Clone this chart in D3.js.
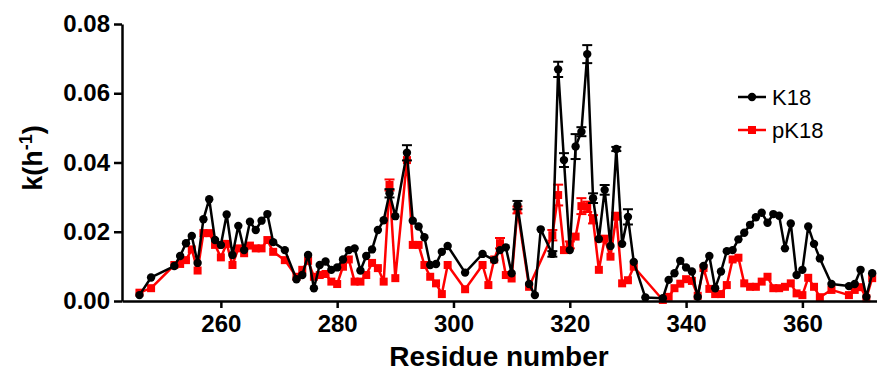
<!DOCTYPE html>
<html>
<head>
<meta charset="utf-8">
<script src="https://cdn.jsdelivr.net/npm/d3@7"></script>
<style>
  body { margin: 0; background: #fff; }
  svg { display: block; font-family: "Liberation Sans", Arial, Helvetica, sans-serif; }
</style>
</head>
<body>
<div id="chart"></div>
<script>
// K18 (black circles)
const k18Residues = [246, 248, 252, 253, 254, 255, 256, 257, 258, 259, 260, 261, 262, 263, 264, 265, 266, 267, 268, 269,
  271, 273, 274, 275, 276, 277, 278, 279, 280, 281, 282, 283, 284, 285, 286, 287, 288, 289, 290, 292,
  293, 294, 295, 296, 297, 298, 299, 302, 305, 307, 308, 309, 310, 311, 313, 314, 315, 317, 318, 319,
  320, 321, 322, 323, 324, 325, 326, 327, 328, 329, 330, 331, 333, 336, 337, 338, 339, 340, 341, 342,
  343, 344, 345, 346, 347, 348, 349, 350, 351, 352, 353, 354, 355, 356, 357, 358, 359, 360, 361, 362,
  363, 365, 368, 369, 370, 371, 372];
const k18Values = [0.0017, 0.0068, 0.0101, 0.0130, 0.0167, 0.0188, 0.0110, 0.0236, 0.0294, 0.0176, 0.0162, 0.0250, 0.0133, 0.0217, 0.0147, 0.0229, 0.0205, 0.0232, 0.0251, 0.0170,
  0.0147, 0.0063, 0.0075, 0.0133, 0.0037, 0.0104, 0.0114, 0.0090, 0.0097, 0.0120, 0.0147, 0.0152, 0.0088, 0.0130, 0.0149, 0.0205, 0.0233, 0.0311, 0.0245, 0.0428,
  0.0232, 0.0215, 0.0184, 0.0104, 0.0107, 0.0142, 0.0159, 0.0082, 0.0136, 0.0118, 0.0147, 0.0155, 0.0080, 0.0277, 0.0049, 0.0017, 0.0207, 0.0136, 0.0669, 0.0407,
  0.0147, 0.0446, 0.0489, 0.0713, 0.0297, 0.0179, 0.0321, 0.0159, 0.0439, 0.0165, 0.0243, 0.0113, 0.0010, 0.0008, 0.0061, 0.0080, 0.0116, 0.0097, 0.0085, 0.0012,
  0.0101, 0.0130, 0.0037, 0.0085, 0.0144, 0.0147, 0.0178, 0.0197, 0.0220, 0.0242, 0.0255, 0.0226, 0.0251, 0.0246, 0.0152, 0.0224, 0.0075, 0.0090, 0.0215, 0.0165,
  0.0123, 0.0049, 0.0043, 0.0049, 0.0090, 0.0012, 0.0080];
const k18ErrResidues = [289, 292, 311, 317, 318, 319, 321, 322, 323, 324, 326, 328, 330];
const k18Err = [0.0012, 0.0022, 0.0012, 0.0008, 0.0022, 0.0020, 0.0036, 0.0013, 0.0026, 0.0014, 0.0014, 0.0006, 0.0022];

// pK18 (red squares)
const pk18Residues = [246, 248, 252, 253, 254, 255, 256, 257, 258, 259, 260, 261, 262, 263, 264, 265, 266, 267, 268, 269,
  271, 273, 274, 275, 276, 277, 278, 279, 280, 281, 282, 283, 284, 285, 286, 287, 288, 289, 290, 292,
  293, 294, 295, 296, 297, 298, 299, 302, 305, 306, 307, 308, 309, 310, 311, 313, 317, 318, 319, 320,
  321, 322, 323, 324, 325, 326, 327, 328, 329, 330, 331, 336, 337, 338, 339, 340, 341, 342, 343, 344,
  345, 346, 347, 348, 349, 350, 351, 352, 353, 354, 355, 356, 357, 358, 359, 360, 361, 362, 363, 365,
  368, 369, 370, 371, 372];
const pk18Values = [0.0024, 0.0037, 0.0104, 0.0107, 0.0118, 0.0149, 0.0088, 0.0196, 0.0196, 0.0162, 0.0126, 0.0165, 0.0104, 0.0152, 0.0138, 0.0160, 0.0152, 0.0152, 0.0176, 0.0142,
  0.0118, 0.0070, 0.0090, 0.0116, 0.0070, 0.0075, 0.0078, 0.0056, 0.0049, 0.0099, 0.0120, 0.0056, 0.0056, 0.0075, 0.0110, 0.0095, 0.0056, 0.0335, 0.0066, 0.0407,
  0.0162, 0.0162, 0.0104, 0.0070, 0.0051, 0.0020, 0.0104, 0.0034, 0.0104, 0.0046, 0.0120, 0.0167, 0.0075, 0.0065, 0.0263, 0.0041, 0.0190, 0.0306, 0.0147, 0.0162,
  0.0186, 0.0274, 0.0272, 0.0236, 0.0090, 0.0180, 0.0128, 0.0245, 0.0051, 0.0060, 0.0099, 0.0003, 0.0012, 0.0037, 0.0050, 0.0063, 0.0058, 0.0015, 0.0095, 0.0035,
  0.0020, 0.0020, 0.0046, 0.0120, 0.0125, 0.0051, 0.0041, 0.0041, 0.0056, 0.0070, 0.0037, 0.0037, 0.0041, 0.0051, 0.0022, 0.0017, 0.0067, 0.0041, 0.0011, 0.0032,
  0.0017, 0.0032, 0.0040, 0.0008, 0.0066];
const pk18ErrResidues = [289, 308, 311, 317, 318, 320, 322, 323, 324, 328];
const pk18Err = [0.0016, 0.0015, 0.0010, 0.0015, 0.0030, 0.0010, 0.0023, 0.0015, 0.0012, 0.0010];

const xTicks = [260, 280, 300, 320, 340, 360];
const yTicks = [0, 0.02, 0.04, 0.06, 0.08];

const width = 877, height = 377;

const x = d3.scaleLinear().domain([243, 373]).range([122, 878]);
const y = d3.scaleLinear().domain([0, 0.08]).range([301, 24]);

const svg = d3.select('#chart').append('svg')
  .attr('width', width)
  .attr('height', height);

// build point lists for each series
function series(res, vals, errRes, errs) {
  return res.map((r, i) => {
    const j = errRes.indexOf(r);
    return {r: r, v: vals[i], e: j >= 0 ? errs[j] : 0};
  });
}
const k18 = series(k18Residues, k18Values, k18ErrResidues, k18Err);
const pk18 = series(pk18Residues, pk18Values, pk18ErrResidues, pk18Err);

const line = d3.line().x(d => x(d.r)).y(d => y(d.v));

function drawSeries(data, color, shape) {
  const g = svg.append('g');
  // error bars
  const eb = g.selectAll('.eb').data(data.filter(d => d.e > 0)).enter().append('g');
  eb.append('line')
    .attr('x1', d => x(d.r)).attr('x2', d => x(d.r))
    .attr('y1', d => y(d.v - d.e)).attr('y2', d => y(d.v + d.e))
    .attr('stroke', color).attr('stroke-width', 2);
  [-1, 1].forEach(s => {
    eb.append('line')
      .attr('x1', d => x(d.r) - 5).attr('x2', d => x(d.r) + 5)
      .attr('y1', d => y(d.v + s * d.e)).attr('y2', d => y(d.v + s * d.e))
      .attr('stroke', color).attr('stroke-width', 2);
  });
  g.append('path')
    .datum(data)
    .attr('fill', 'none')
    .attr('stroke', color)
    .attr('stroke-width', 2.5)
    .attr('stroke-linejoin', 'round')
    .attr('d', line);
  if (shape === 'circle') {
    g.selectAll('circle').data(data).enter().append('circle')
      .attr('cx', d => x(d.r)).attr('cy', d => y(d.v)).attr('r', 4.2)
      .attr('fill', color);
  } else {
    g.selectAll('rect').data(data).enter().append('rect')
      .attr('x', d => x(d.r) - 4).attr('y', d => y(d.v) - 4)
      .attr('width', 8).attr('height', 8)
      .attr('fill', color);
  }
}

drawSeries(pk18, '#ff0000', 'square');
drawSeries(k18, '#000000', 'circle');

// Add the X Axis
const xAxis = svg.append('g')
  .attr('transform', 'translate(0,301)')
  .call(d3.axisBottom(x).tickValues(xTicks).tickSize(7).tickSizeOuter(0).tickPadding(7));

// Add the Y Axis
const yAxis = svg.append('g')
  .attr('transform', 'translate(122,0)')
  .call(d3.axisLeft(y).tickValues(yTicks).tickFormat(d3.format('.2f')).tickSize(8).tickSizeOuter(0).tickPadding(4));

[xAxis, yAxis].forEach(a => {
  a.select('.domain').attr('stroke', '#000').attr('stroke-width', 2.5);
  a.selectAll('.tick line').attr('stroke', '#000').attr('stroke-width', 2.5);
  a.selectAll('.tick text')
    .attr('fill', '#000')
    .style('font-family', '"Liberation Sans", Arial, sans-serif')
    .style('font-size', '24px')
    .style('font-weight', 'bold');
});

// axis titles
svg.append('text')
  .attr('x', 499).attr('y', 366)
  .attr('text-anchor', 'middle')
  .style('font-size', '28px').style('font-weight', 'bold')
  .text('Residue number');

const yt = svg.append('text')
  .attr('transform', 'translate(42,158) rotate(-90)')
  .attr('text-anchor', 'middle')
  .style('font-size', '27px').style('font-weight', 'bold');
yt.append('tspan').text('k(h');
yt.append('tspan').attr('dy', -10).style('font-size', '18px').text('-1');
yt.append('tspan').attr('dy', 10).text(')');

// legend
const legendItems = [
  {name: 'K18', color: '#000000', shape: 'circle', y: 97},
  {name: 'pK18', color: '#ff0000', shape: 'square', y: 130}
];
legendItems.forEach(it => {
  const lg = svg.append('g');
  lg.append('line').attr('x1', 738).attr('x2', 766).attr('y1', it.y).attr('y2', it.y)
    .attr('stroke', it.color).attr('stroke-width', 2.5);
  if (it.shape === 'circle') {
    lg.append('circle').attr('cx', 752).attr('cy', it.y).attr('r', 4.2).attr('fill', it.color);
  } else {
    lg.append('rect').attr('x', 748).attr('y', it.y - 4).attr('width', 8).attr('height', 8).attr('fill', it.color);
  }
  lg.append('text').attr('x', 772).attr('y', it.y + 8)
    .style('font-size', '22px')
    .text(it.name);
});
</script>
</body>
</html>
